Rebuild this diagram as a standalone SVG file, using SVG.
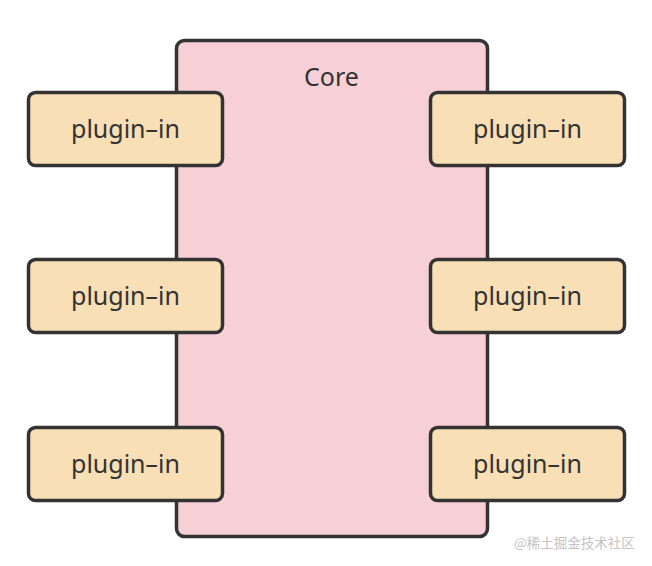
<svg xmlns="http://www.w3.org/2000/svg" width="652" height="566" viewBox="0 0 652 566">
<style>
.core{fill:#f6d0d6;stroke:#333333;stroke-width:3.5}
.plug{fill:#f8dfb6;stroke:#333333;stroke-width:3.5}
.t{font-family:"Noto Sans","Liberation Sans",sans-serif;font-size:25px;fill:#333333;text-anchor:middle}
.wm{font-family:"Noto Sans CJK SC","Liberation Sans",sans-serif;font-size:13.5px;fill:#c4c4c4;text-anchor:start}
</style>
<rect width="652" height="566" fill="#ffffff"/>
<g id="core">
<rect class="core" x="176.5" y="40.5" width="311" height="496" rx="8"/>
<text class="t" x="331.5" y="86">Core</text>
</g>
<g id="connectors"></g>
<g id="plugin-l1"><rect class="plug" x="28.5" y="92.5" width="194" height="73" rx="7"/><text class="t" x="125.5" y="138">plugin–in</text></g>
<g id="plugin-l2"><rect class="plug" x="28.5" y="259.5" width="194" height="73" rx="7"/><text class="t" x="125.5" y="305">plugin–in</text></g>
<g id="plugin-l3"><rect class="plug" x="28.5" y="427.5" width="194" height="73" rx="7"/><text class="t" x="125.5" y="473">plugin–in</text></g>
<g id="plugin-r1"><rect class="plug" x="430.5" y="92.5" width="194" height="73" rx="7"/><text class="t" x="527.5" y="138">plugin–in</text></g>
<g id="plugin-r2"><rect class="plug" x="430.5" y="259.5" width="194" height="73" rx="7"/><text class="t" x="527.5" y="305">plugin–in</text></g>
<g id="plugin-r3"><rect class="plug" x="430.5" y="427.5" width="194" height="73" rx="7"/><text class="t" x="527.5" y="473">plugin–in</text></g>
<text class="wm" x="514" y="548">@稀土掘金技术社区</text>
</svg>
